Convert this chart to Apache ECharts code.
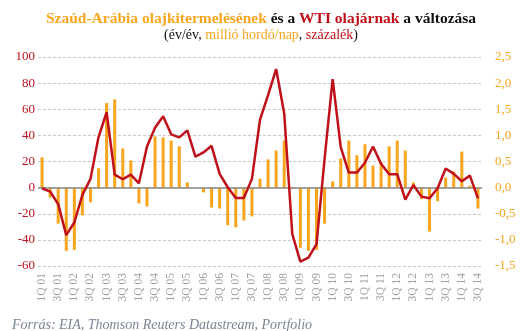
<!DOCTYPE html>
<html>
<head>
<meta charset="utf-8">
<script src="https://cdn.jsdelivr.net/npm/echarts@6/dist/echarts.min.js"></script>
<style>
html,body{margin:0;padding:0;background:#fff;}
#c{width:522px;height:331px;}
</style>
</head>
<body>
<div id="c"></div>
<script>
// Categories: quarters 1Q 01 .. 3Q 14
const categories = [];
for (let y = 1; y <= 14; y++) {
  for (let q = 1; q <= 4; q++) {
    if (y === 14 && q > 3) break;
    categories.push(q + 'Q ' + (y < 10 ? '0' + y : '' + y));
  }
}
// Saudi oil production change, y/y, million barrels/day (right axis)
const saudiProduction = [
  0.58, -0.19, -0.69, -1.21, -1.19, -0.53, -0.28, 0.37, 1.62, 1.69,
  0.75, 0.52, -0.30, -0.36, 0.98, 0.96, 0.90, 0.79, 0.10, 0.00,
  -0.09, -0.38, -0.40, -0.72, -0.76, -0.63, -0.55, 0.17, 0.54, 0.71,
  0.90, -0.03, -1.15, -1.21, -1.19, -0.69, 0.12, 0.56, 0.90, 0.62,
  0.83, 0.42, 0.49, 0.79, 0.90, 0.71, 0.10, -0.22, -0.84, -0.26,
  0.19, 0.31, 0.69, 0.04, -0.40
];
// WTI price change, y/y, percent (left axis)
const wtiChange = [
  -0.5, -3, -12.6, -36.4, -26.7, -5.6, 6.7, 38.7, 57.7, 10,
  6.4, 10, 3.3, 31.5, 45.9, 54.6, 40.8, 38.5, 43.8, 23.8,
  26.9, 32, 10.5, 0.3, -8, -8, 6.7, 52, 70.8, 90.8,
  56.7, -35.6, -56.7, -53.6, -43.3, 22, 83, 31, 11.5, 11.5,
  19, 31.5, 18.2, 10.3, 10.3, -9.2, 2, -6.9, -8.2, -0.5,
  14.6, 10.5, 4.9, 9.2, -8.2
];
const leftTicks = {min: -60, max: 100, interval: 20};
const rightTicks = {min: -1.5, max: 2.5, interval: 0.5};

const ORANGE = '#F9A51D';
const RED = '#C0101A';
const serif = "'Liberation Serif', 'DejaVu Serif', serif";

const chart = echarts.init(document.getElementById('c'));
chart.setOption({
  animation: false,
  title: [{
    text: '{o|Szaúd-Arábia olajkitermelésének }{k|és a }{r|WTI olajárnak }{k|a változása}',
    left: 'center', top: 6,
    textStyle: {
      rich: {
        o: {color: ORANGE, fontWeight: 'bold', fontSize: 15.5, fontFamily: serif},
        k: {color: '#111', fontWeight: 'bold', fontSize: 15.5, fontFamily: serif},
        r: {color: RED, fontWeight: 'bold', fontSize: 15.5, fontFamily: serif}
      }
    }
  }, {
    text: '{k|(év/év, }{o|millió hordó/nap}{k|, }{r|százalék}{k|)}',
    left: 'center', top: 23,
    textStyle: {
      fontWeight: 'normal',
      rich: {
        o: {color: ORANGE, fontSize: 14, fontWeight: 'normal', fontFamily: serif},
        k: {color: '#111', fontSize: 14, fontWeight: 'normal', fontFamily: serif},
        r: {color: RED, fontSize: 14, fontWeight: 'normal', fontFamily: serif}
      }
    }
  }, {
    text: 'Forrás: EIA, Thomson Reuters Datastream, Portfolio',
    left: 7, top: 313,
    textStyle: {color: '#7A8494', fontSize: 14, fontStyle: 'italic', fontWeight: 'normal', fontFamily: serif}
  }],
  grid: {left: 38, right: 40, top: 57, bottom: 65, containLabel: false},
  xAxis: {
    type: 'category',
    data: categories,
    boundaryGap: true,
    axisLine: {show: false},
    axisTick: {show: false},
    axisLabel: {
      interval: 1, rotate: 90, margin: 7,
      color: '#A0A0A0', fontSize: 11.5, fontFamily: serif
    }
  },
  yAxis: [{
    type: 'value',
    min: leftTicks.min, max: leftTicks.max, interval: leftTicks.interval,
    axisLine: {show: false}, axisTick: {show: false},
    axisLabel: {color: RED, fontSize: 13, margin: 3, fontFamily: serif},
    splitLine: {lineStyle: {color: '#C8C8C8', type: [3, 2], width: 1}}
  }, {
    type: 'value',
    min: rightTicks.min, max: rightTicks.max, interval: rightTicks.interval,
    axisLine: {show: false}, axisTick: {show: false},
    axisLabel: {
      color: ORANGE, fontSize: 13, margin: 13, fontFamily: serif,
      formatter: v => v.toFixed(1).replace('.', ',')
    },
    splitLine: {show: false}
  }],
  series: [{
    type: 'bar',
    yAxisIndex: 1,
    data: saudiProduction,
    barWidth: 3,
    itemStyle: {color: ORANGE},
    markLine: {
      silent: true, symbol: 'none', label: {show: false},
      lineStyle: {color: '#888', type: 'solid', width: 1.5},
      data: [{yAxis: 0}]
    }
  }, {
    type: 'line',
    yAxisIndex: 0,
    data: wtiChange,
    symbol: 'none',
    lineStyle: {color: RED, width: 2.5},
    z: 5
  }]
});
</script>
</body>
</html>
